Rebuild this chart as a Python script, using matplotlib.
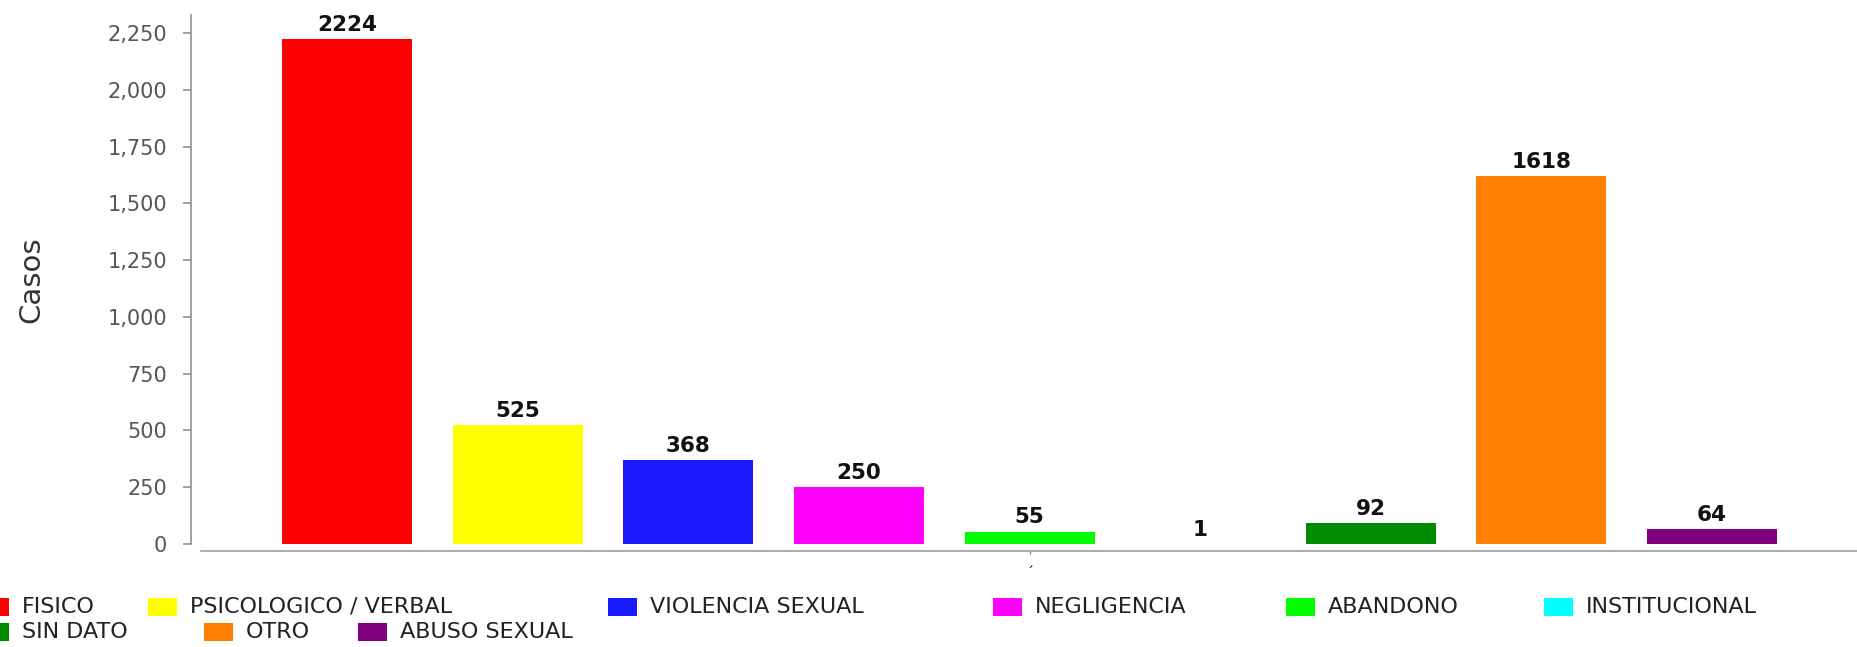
import matplotlib.pyplot as plt
from matplotlib.patches import Rectangle

# datos del grafico
categorias = ["FISICO", "PSICOLOGICO / VERBAL", "VIOLENCIA SEXUAL", "NEGLIGENCIA",
              "ABANDONO", "INSTITUCIONAL", "SIN DATO", "OTRO", "ABUSO SEXUAL"]
casos = [2224, 525, 368, 250, 55, 1, 92, 1618, 64]
colores = ["#ff0000", "#ffff00", "#1a1aff", "#ff00ff", "#00ff00",
           "#00ffff", "#008a00", "#ff8000", "#800080"]
yticks = [0, 250, 500, 750, 1000, 1250, 1500, 1750, 2000, 2250]

W, H = 1858, 647
fig = plt.figure(figsize=(W / 100, H / 100), dpi=100)
ax = fig.add_axes([191 / W, 103 / H, (W - 191) / W, 529 / H])

x = list(range(len(casos)))
ax.bar(x, casos, width=0.762, color=colores)
for xi, v in zip(x, casos):
    ax.annotate(str(v), (xi, v), xytext=(0, 3), textcoords="offset points",
                ha="center", va="bottom", fontsize=15.5, fontweight="bold", color="#111111")

ax.set_xlim(-0.916, 8.856)
ax.set_ylim(0, 2329)
ax.set_yticks(yticks)
ax.set_yticklabels([f"{t:,}" for t in yticks], fontsize=15, color="#555555")
ax.tick_params(axis="y", length=5.8, width=1.1, color="#888888", pad=11.5)
ax.set_xticks([4])
ax.set_xticklabels(["´"], fontsize=13, color="#333333")
ax.tick_params(axis="x", length=2.5, width=1, color="#888888", pad=8)

ax.set_ylabel("Casos", fontsize=21, color="#333333")
ax.yaxis.set_label_coords(-0.0876, 0.5)

for s in ["top", "right"]:
    ax.spines[s].set_visible(False)
ax.spines["left"].set_color("#888888")
ax.spines["left"].set_linewidth(1.1)
ax.spines["bottom"].set_color("#999999")
ax.spines["bottom"].set_linewidth(1.1)
ax.spines["bottom"].set_position(("outward", 5))
ax.spines["bottom"].set_bounds(-0.857, 8.856)

# leyenda en dos filas (posiciones en pixeles de la figura)
leg_x = [-20, 148, 608, 993, 1286, 1544, -20, 204, 358]
leg_y = [607, 607, 607, 607, 607, 607, 632, 632, 632]
pw, ph = 29, 18
for nombre, c, lx, ly in zip(categorias, colores, leg_x, leg_y):
    fig.patches.append(Rectangle((lx / W, (H - ly - ph / 2) / H), pw / W, ph / H,
                                 transform=fig.transFigure, facecolor=c, edgecolor="none"))
    fig.text((lx + pw + 13) / W, (H - ly) / H, nombre, fontsize=16, color="#222222",
             ha="left", va="center")

fig.savefig("out.png", dpi=100)
